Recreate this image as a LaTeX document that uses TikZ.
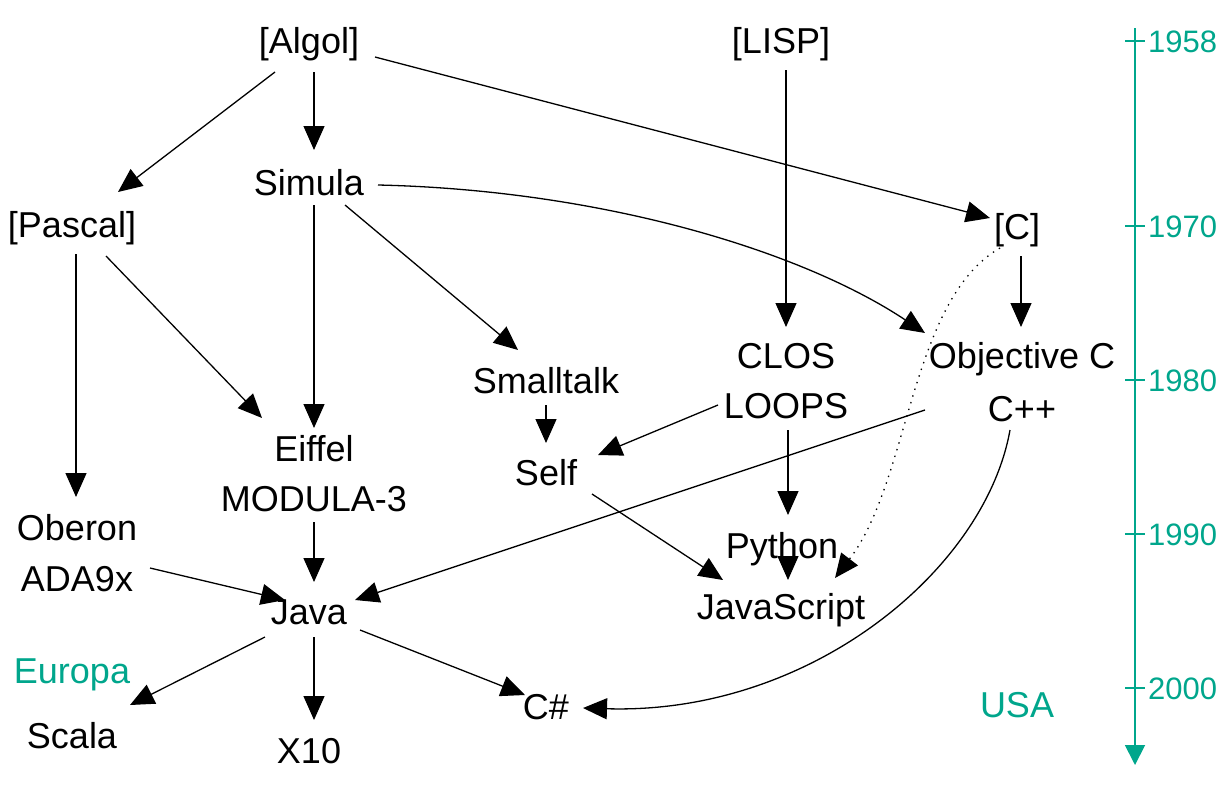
\documentclass[tikz,border=0pt]{standalone}
\usepackage{fontspec}
\setmainfont{Liberation Sans}
\usetikzlibrary{arrows.meta}
\definecolor{teal}{RGB}{0,166,140}
\begin{document}
\begin{tikzpicture}[x=1pt,y=-1pt,
  lang/.style={inner sep=0pt,text height=26pt,text depth=0pt,anchor=center,font=\fontsize{36}{40}\selectfont},
  region/.style={lang,text=teal},
  year/.style={inner sep=0pt,text height=22pt,text depth=0pt,anchor=west,text=teal,font=\fontsize{31}{35}\selectfont},
  conn/.style={line width=1.3pt,-{Triangle[length=24pt,width=21pt]}},
  depend/.style={conn,dash pattern=on 1.4pt off 5.6pt},
  axis/.style={teal,line width=1.8pt},
  tick/.style={teal,line width=1.3pt}]
\useasboundingbox (0,0) rectangle (1231,785);
% nodes
\node[lang] (algol) at (309,40) {[Algol]};
\node[lang] (lisp) at (781,40) {[LISP]};
\node[lang] (simula) at (309,182) {Simula};
\node[lang] (pascal) at (72,224) {[Pascal]};
\node[lang] (c) at (1017,226) {[C]};
\node[lang] (clos) at (786,355) {CLOS};
\node[lang] (loops) at (786,405) {LOOPS};
\node[lang] (objc) at (1022,355) {Objective C};
\node[lang] (cpp) at (1022,408) {C++};
\node[lang] (smalltalk) at (546,380) {Smalltalk};
\node[lang] (self) at (546,472) {Self};
\node[lang] (eiffel) at (314,448) {Eiffel};
\node[lang] (modula) at (314,498) {MODULA-3};
\node[lang] (oberon) at (77,527) {Oberon};
\node[lang] (ada) at (77,578) {ADA9x};
\node[lang] (python) at (782,545) {Python};
\node[lang] (js) at (781,606) {JavaScript};
\node[lang] (java) at (309,611) {Java};
\node[region] (europa) at (72,670) {Europa};
\node[lang] (scala) at (72,735) {Scala};
\node[lang] (x10) at (309,750) {X10};
\node[lang] (cs) at (546,706) {C\#};
\node[region] (usa) at (1017,704) {USA};
% connectors
\draw[conn] ([shift={(-34,32)}]algol.center) -- ([shift={(46,-32)}]pascal.center);
\draw[conn] ([shift={(5,32)}]algol.center) -- ([shift={(5,-32)}]simula.center);
\draw[conn] ([shift={(66,17)}]algol.center) -- ([shift={(-27,-8)}]c.center);
\draw[conn] ([shift={(5,30)}]lisp.center) -- ([shift={(0,-28)}]clos.center);
\draw[conn] ([shift={(5,23)}]simula.center) -- ([shift={(0,-20)}]eiffel.center);
\draw[conn] ([shift={(36,23)}]simula.center) -- ([shift={(-28,-30)}]smalltalk.center);
\draw[conn] ([shift={(69,3)}]simula.center) .. controls (600,190) and (800,250) .. ([shift={(-97,-22)}]objc.center);
\draw[conn] ([shift={(4,30)}]c.center) -- ([shift={(-1,-28)}]objc.center);
\draw[depend] ([shift={(-17,22)}]c.center) .. controls (910,300) and (910,480) .. ([shift={(54,-28)}]js.center);
\draw[conn] ([shift={(4,30)}]pascal.center) -- ([shift={(-1,-30)}]oberon.center);
\draw[conn] ([shift={(34,32)}]pascal.center) -- ([shift={(-52,-30)}]eiffel.center);
\draw[conn] ([shift={(0,25)}]smalltalk.center) -- ([shift={(0,-29)}]self.center);
\draw[conn] ([shift={(-68,0)}]loops.center) -- ([shift={(52,-17)}]self.center);
\draw[conn] ([shift={(2,25)}]loops.center) -- ([shift={(6,-30)}]python.center);
\draw[conn] ([shift={(46,22)}]self.center) -- ([shift={(-58,-26)}]js.center);
\draw[conn] ([shift={(6,15)}]python.center) -- ([shift={(7,-26)}]js.center);
\draw[conn] ([shift={(-97,2)}]cpp.center) -- ([shift={(46,-11)}]java.center);
\draw[conn] ([shift={(-12,22)}]cpp.center) .. controls (985,570) and (810,715) .. ([shift={(37,2)}]cs.center);
\draw[conn] ([shift={(0,24)}]modula.center) -- ([shift={(5,-29)}]java.center);
\draw[conn] ([shift={(73,-10)}]ada.center) -- ([shift={(-24,-11)}]java.center);
\draw[conn] ([shift={(-44,26)}]java.center) -- ([shift={(58,-30)}]scala.center);
\draw[conn] ([shift={(5,26)}]java.center) -- ([shift={(5,-30)}]x10.center);
\draw[conn] ([shift={(51,19)}]java.center) -- ([shift={(-21,-11)}]cs.center);
% timeline
\coordinate (ttop) at (1135,28);
\coordinate (tbot) at (1135,765);
\draw[axis,-{Triangle[length=20pt,width=20pt]}] (ttop) -- (tbot);
\foreach \yr/\yy in {1958/41,1970/226,1980/380,1990/534,2000/688}{
  \coordinate (t\yr) at (1135,\yy);
  \draw[tick] ([xshift=-10pt]t\yr) -- ([xshift=10pt]t\yr);
  \node[year] (y\yr) at ([xshift=13pt]t\yr) {\yr};
}
\end{tikzpicture}
\end{document}
